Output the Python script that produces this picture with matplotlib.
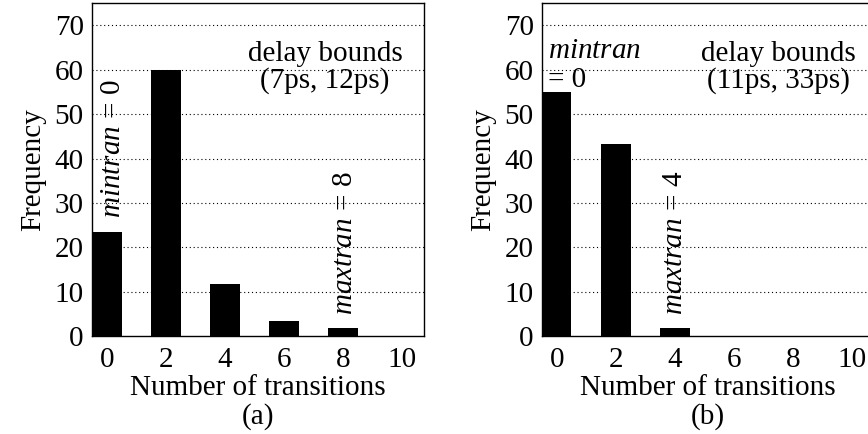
import matplotlib
matplotlib.use('Agg')
import matplotlib.pyplot as plt

plt.rcParams['font.family'] = 'Liberation Serif'
plt.rcParams['mathtext.fontset'] = 'custom'
plt.rcParams['mathtext.rm'] = 'Liberation Serif'
plt.rcParams['mathtext.it'] = 'Liberation Serif:italic'

transitions = [0, 2, 4, 6, 8, 10]
freq_a = [23.4, 60, 11.7, 3.4, 1.7, 0]
freq_b = [55, 43.2, 1.8, 0, 0, 0]
yticks = [0, 10, 20, 30, 40, 50, 60, 70]
bounds_a = 'delay bounds\n(7ps, 12ps)'
bounds_b = 'delay bounds\n(11ps, 33ps)'

fs = 21
fig = plt.figure(figsize=(8.68, 4.34), dpi=100)
ax_a = fig.add_axes([0.106, 0.2258, 0.3825, 0.7666])
ax_b = fig.add_axes([0.6244, 0.2258, 0.3825, 0.7666])

for ax, freq, tag in [(ax_a, freq_a, '(a)'), (ax_b, freq_b, '(b)')]:
    ax.bar(transitions, freq, width=1.0, color='black', zorder=3)
    ax.set_xlim(-0.5, 10.75)
    ax.set_ylim(0, 75)
    ax.set_xticks(transitions)
    ax.set_yticks(yticks)
    ax.tick_params(length=0, labelsize=fs)
    ax.tick_params(axis='x', pad=8)
    ax.tick_params(axis='y', pad=6)
    for y in yticks[1:]:
        ax.axhline(y, color='black', lw=0.8, ls=(0, (1, 2.5)), zorder=1)
    for s in ax.spines.values():
        s.set_linewidth(1.0)
    ax.set_ylabel('Frequency', fontsize=fs, labelpad=6)
    ax.set_xlabel('Number of transitions\n' + tag, fontsize=fs,
                  labelpad=1, linespacing=1.1)

ax_a.text(7.4, 60.5, bounds_a, fontsize=fs, ha='center', va='center',
          multialignment='center', linespacing=1.0)
ax_a.text(0.21, 42.3, '$mintran$ = 0', fontsize=fs, rotation=90,
          ha='center', va='center')
ax_a.text(8.08, 21, '$maxtran$ = 8', fontsize=fs, rotation=90,
          ha='center', va='center')

ax_b.text(7.5, 60.5, bounds_b, fontsize=fs, ha='center', va='center',
          multialignment='center', linespacing=1.0)
ax_b.text(-0.3, 61.0, '$mintran$\n= 0', fontsize=fs, ha='left',
          va='center', linespacing=1.15)
ax_b.text(4.0, 21, '$maxtran$ = 4', fontsize=fs, rotation=90,
          ha='center', va='center')

fig.savefig('out.png', dpi=100)
